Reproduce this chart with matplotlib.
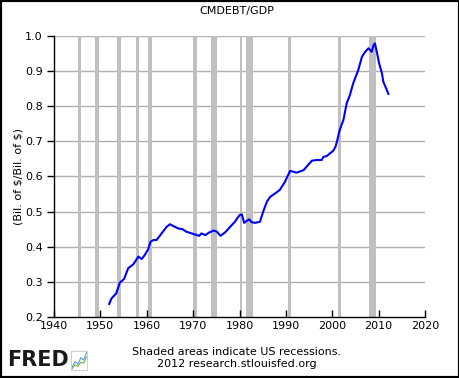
import numpy as np
import matplotlib.pyplot as plt
from matplotlib.patches import Rectangle

# CMDEBT/GDP
years = [1951.9, 1952.4, 1953.4, 1954.2, 1955.1, 1956.0, 1957.1, 1958.2, 1958.9,
         1959.6, 1960.3, 1960.8, 1961.4, 1962.1, 1963.2, 1964.3, 1965.0, 1965.7,
         1966.8, 1967.7, 1968.5, 1969.2, 1970.4, 1971.3, 1971.8, 1972.6, 1973.5,
         1974.4, 1975.1, 1975.9, 1976.9, 1978.0, 1979.0, 1980.0, 1980.5, 1981.0,
         1981.6, 1982.1, 1982.6, 1983.3, 1984.4, 1985.1, 1985.9, 1986.6, 1987.7,
         1988.7, 1989.8, 1990.9, 1992.3, 1993.8, 1994.8, 1995.6, 1996.6, 1997.7,
         1998.1, 1998.8, 1999.5, 2000.2, 2000.7, 2001.1, 2001.5, 2002.0, 2002.4,
         2003.1, 2003.8, 2004.5, 2005.6, 2006.4, 2007.1, 2007.8, 2008.5, 2008.9,
         2009.2, 2009.6, 2010.1, 2010.7, 2011.0, 2011.6, 2012.1]
ratio = [0.237, 0.253, 0.267, 0.298, 0.308, 0.339, 0.350, 0.372, 0.365,
         0.377, 0.393, 0.414, 0.419, 0.419, 0.438, 0.457, 0.464, 0.459,
         0.452, 0.450, 0.443, 0.440, 0.435, 0.431, 0.438, 0.433, 0.441,
         0.446, 0.443, 0.431, 0.441, 0.457, 0.471, 0.490, 0.492, 0.468,
         0.474, 0.478, 0.470, 0.468, 0.471, 0.500, 0.528, 0.542, 0.552,
         0.562, 0.585, 0.616, 0.611, 0.618, 0.633, 0.645, 0.647, 0.647,
         0.656, 0.658, 0.666, 0.673, 0.685, 0.704, 0.728, 0.747, 0.761,
         0.808, 0.832, 0.865, 0.903, 0.941, 0.955, 0.965, 0.955, 0.974,
         0.979, 0.955, 0.922, 0.894, 0.870, 0.851, 0.835]

# NBER recessions
rec_start = [1945.1, 1948.9, 1953.5, 1957.6, 1960.3, 1969.9, 1973.9, 1980.0, 1981.5, 1990.5, 2001.2, 2007.9]
rec_end = [1945.8, 1949.8, 1954.4, 1958.3, 1961.1, 1970.9, 1975.2, 1980.5, 1982.9, 1991.2, 2001.9, 2009.5]

xticks = list(range(1940, 2021, 10))
yticks = [0.2, 0.3, 0.4, 0.5, 0.6, 0.7, 0.8, 0.9, 1.0]

fig = plt.figure(figsize=(4.6, 3.78), dpi=100)
fig.patches.append(Rectangle((0, 0), 1, 1, fill=False, ec='black', lw=3,
                             transform=fig.transFigure, figure=fig, clip_on=False))

ax = fig.add_axes([0.1174, 0.1614, 0.8066, 0.7434])
for s, e in zip(rec_start, rec_end):
    ax.axvspan(s, e, color='#c0c0c0', lw=0, zorder=1)
for y in yticks[1:]:
    ax.axhline(y, color='#b0b0b0', lw=1, zorder=0.5)
ax.plot(years, ratio, color='#0000ff', lw=1.5, zorder=3)

ax.set_xlim(1940, 2020)
ax.set_ylim(0.2, 1.0)
ax.set_xticks(xticks)
ax.set_yticks(yticks)
ax.set_yticklabels(['%.1f' % v for v in yticks])
ax.tick_params(axis='x', direction='in', length=5, width=1, labelsize=8, pad=3)
ax.tick_params(axis='y', direction='out', length=5, width=1, labelsize=8, pad=3)
for side in ['top', 'right']:
    ax.spines[side].set_visible(False)
ax.spines['left'].set_linewidth(1)
ax.spines['bottom'].set_linewidth(1)
ax.set_ylabel(r'(Bil. of \$/Bil. of \$)', fontsize=8, labelpad=1)

fig.text(0.515, 0.972, 'CMDEBT/GDP', ha='center', va='center', fontsize=8)
fig.text(0.515, 0.069, 'Shaded areas indicate US recessions.', ha='center', va='center', fontsize=8)
fig.text(0.515, 0.036, '2012 research.stlouisfed.org', ha='center', va='center', fontsize=8)
fig.text(0.015, 0.047, 'FRED', ha='left', va='center', fontsize=15, fontweight='heavy', color='#1a1a1a')

# small FRED chart icon
icon = fig.add_axes([0.155, 0.022, 0.035, 0.05])
icon.set_xticks([])
icon.set_yticks([])
for sp in icon.spines.values():
    sp.set_color('#d0d0d0')
icon.plot([0, 1, 2, 3, 4, 5], [0.5, 1.5, 1.0, 2.2, 1.8, 3.2], color='#5b9bd5', lw=0.8)
icon.plot([0, 1, 2, 3, 4, 5], [0.2, 0.9, 0.6, 1.4, 1.2, 2.4], color='#7cb342', lw=0.8)
icon.set_xlim(-0.3, 5.3)
icon.set_ylim(0, 3.5)

fig.savefig('out.png', dpi=100)
